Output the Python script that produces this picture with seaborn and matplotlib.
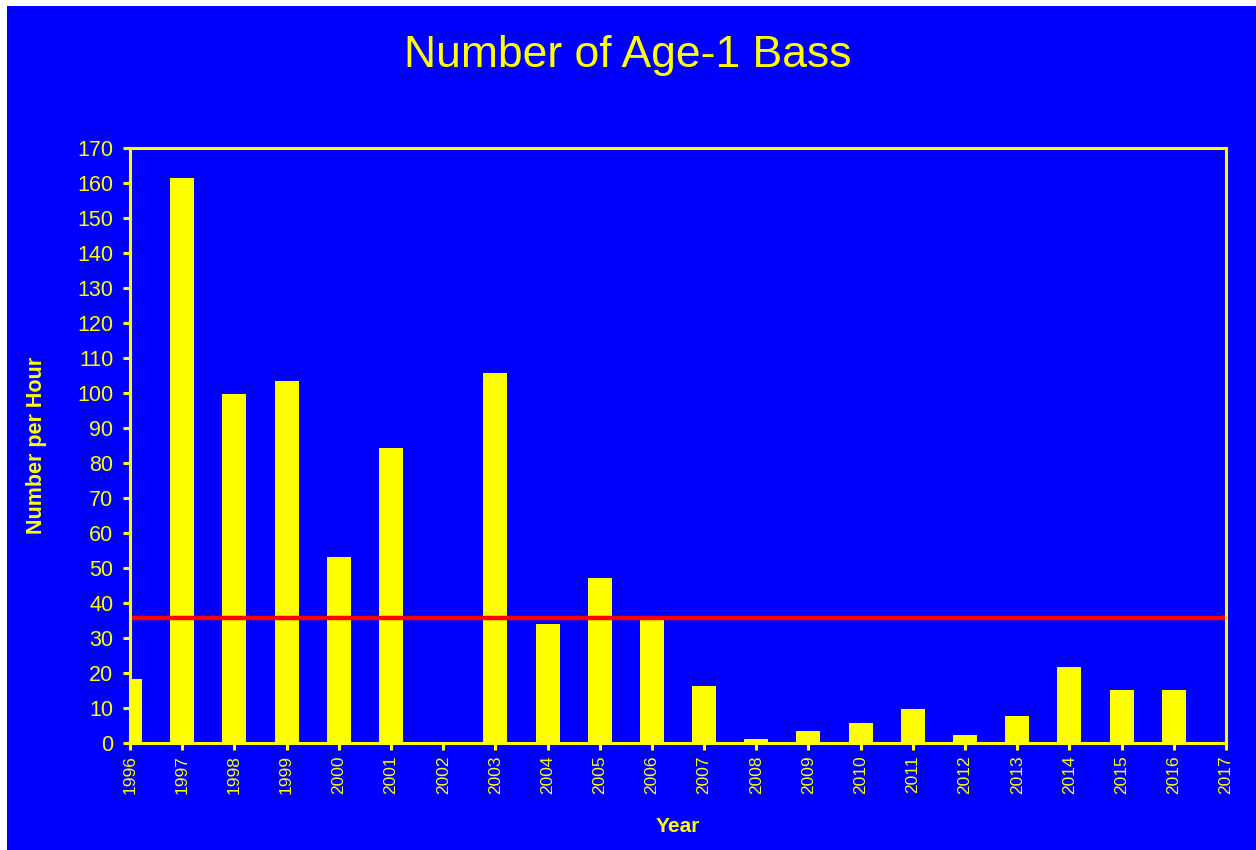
import matplotlib
matplotlib.use("Agg")
import matplotlib.pyplot as plt
import seaborn as sns
import pandas as pd
from matplotlib.patches import Rectangle

years = [1996, 1997, 1998, 1999, 2000, 2001, 2002, 2003, 2004, 2005, 2006,
         2007, 2008, 2009, 2010, 2011, 2012, 2013, 2014, 2015, 2016]
values = [18.3, 161.4, 99.7, 103.4, 53.1, 84.3, 0.0, 105.7, 34.0, 47.1, 35.1,
          16.3, 1.2, 3.4, 5.6, 9.8, 2.3, 7.7, 21.7, 15.1, 15.1]
mean_line = 35.6
tick_years = list(range(1996, 2018))
y_ticks = list(range(0, 171, 10))

title = "Number of Age-1 Bass"
xlabel = "Year"
ylabel = "Number per Hour"

BLUE = "#0000FF"
YEL = "#FFFF00"
RED = "#FF0000"

sns.set_theme(style="ticks")
plt.rcParams["font.family"] = ["Liberation Sans", "DejaVu Sans"]

fig = plt.figure(figsize=(12.56, 8.5), dpi=100, facecolor="white")
fig.patches.append(Rectangle((7 / 1256, 0), 1 - 7 / 1256, 1 - 6 / 850,
                             transform=fig.transFigure, facecolor=BLUE,
                             edgecolor="none", zorder=-10))
ax = fig.add_axes([130 / 1256, 107 / 850, (1226 - 130) / 1256, (743 - 148) / 850])
ax.set_facecolor(BLUE)

df = pd.DataFrame({"year": years, "value": values})
sns.barplot(data=df, x="year", y="value", native_scale=True, width=0.46,
            color=YEL, saturation=1, ax=ax, linewidth=0, zorder=2)
ax.axhline(mean_line, color=RED, lw=3.2, zorder=3)

ax.set_xlim(1996, 2017)
ax.set_ylim(0, 170)
ax.set_xticks(tick_years)
ax.set_xticklabels([str(y) for y in tick_years], rotation=90)
ax.set_yticks(y_ticks)

for sp in ax.spines.values():
    sp.set_visible(True)
    sp.set_color(YEL)
    sp.set_linewidth(2.2)
    sp.set_zorder(5)

ax.tick_params(axis="both", colors=YEL, direction="out", width=2.2, length=5)
ax.tick_params(axis="y", labelsize=15.5, pad=7)
ax.tick_params(axis="x", labelsize=12.5, pad=4)

ax.set_xlabel(xlabel, color=YEL, fontsize=15, fontweight="bold", labelpad=16)
ax.set_ylabel(ylabel, color=YEL, fontsize=15.5, fontweight="bold", labelpad=22)
fig.text(628 / 1256, 1 - 55 / 850, title, color=YEL, fontsize=32,
         ha="center", va="center")

fig.savefig("out.png", dpi=100, facecolor=fig.get_facecolor())
